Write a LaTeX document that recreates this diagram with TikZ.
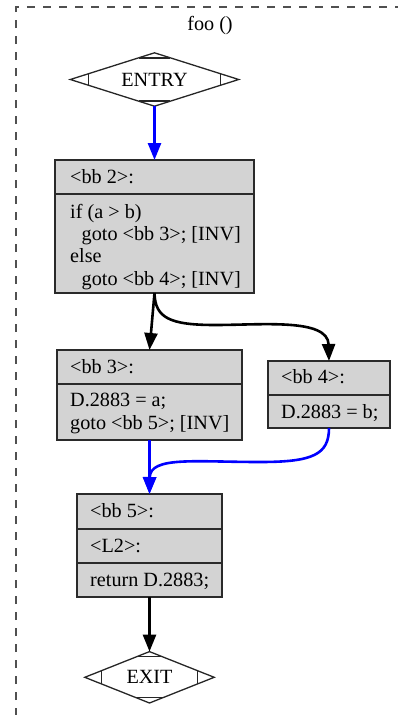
\documentclass[tikz,border=0pt]{standalone}
\usepackage{fontspec}
\setmainfont{Liberation Serif}
\usetikzlibrary{arrows.meta}
\definecolor{boxfill}{HTML}{D3D3D3}
\definecolor{boxline}{HTML}{2A2A2A}
\definecolor{clusterline}{HTML}{505050}
\tikzset{
  bbox/.style={draw=boxline, fill=boxfill, line width=1.5pt, anchor=north west,
               inner sep=0pt, outer sep=0pt, rectangle},
  divline/.style={draw=boxline, line width=1.5pt},
  txt/.style={anchor=base west, inner sep=0pt, font=\fontsize{20.2}{22.3}\selectfont},
  ctxt/.style={inner sep=0pt, font=\fontsize{20.2}{22.3}\selectfont},
  diaframe/.style={draw=black!85, line width=1.3pt, line join=miter},
  flow/.style={line width=2.6pt, -{Triangle[length=17pt,width=13pt]}},
  hot/.style={flow, draw=blue},
  cluster/.style={draw=clusterline, line width=1.3pt, dash pattern=on 8pt off 8pt},
}
\begin{document}
\begin{tikzpicture}[x=1pt, y=-1pt]
  \useasboundingbox (0,0) rectangle (398,715);

  % cluster frame and its title
  \draw[cluster] (16,716) -- (16,7) -- (400,7);
  \node[ctxt, anchor=base] (title) at (210,30) {foo ()};

  % ENTRY (Mdiamond)
  \node[rectangle, minimum width=168pt, minimum height=53pt, inner sep=0pt, ctxt] (entry) at (154.5,79.5) {ENTRY};
  \draw[diaframe] (entry.west) -- (entry.north) -- (entry.east) -- (entry.south) -- cycle;
  \begin{scope}[shift={(entry.center)}, diaframe]
    \draw (-66,-5.7) -- (-66,5.7);
    \draw (66,-5.7) -- (66,5.7);
    \draw (-15.8,-21.5) -- (15.8,-21.5);
    \draw (-15.8,21.5) -- (15.8,21.5);
  \end{scope}

  % <bb 2>
  \node[bbox, minimum width=199pt, minimum height=133pt] (bb2) at (55,160) {};
  \draw[divline] (55,194) -- (254,194);
  \node[txt] (bb2h) at (70,183.5) {<bb 2>:};
  \node[txt] (bb2a) at (70,218.3) {if (a > b)};
  \node[txt] (bb2b) at (81.5,240.6) {goto <bb 3>; [INV]};
  \node[txt] (bb2c) at (70,262.9) {else};
  \node[txt] (bb2d) at (81.5,285.2) {goto <bb 4>; [INV]};

  % <bb 3>
  \node[bbox, minimum width=185pt, minimum height=90pt] (bb3) at (57,350) {};
  \draw[divline] (57,384) -- (242,384);
  \node[txt] (bb3h) at (70,373) {<bb 3>:};
  \node[txt] (bb3a) at (70,406.7) {D.2883 = a;};
  \node[txt] (bb3b) at (70,429) {goto <bb 5>; [INV]};

  % <bb 4>
  \node[bbox, minimum width=122pt, minimum height=67pt] (bb4) at (268,361) {};
  \draw[divline] (268,395) -- (390,395);
  \node[txt] (bb4h) at (281,383.5) {<bb 4>:};
  \node[txt] (bb4a) at (281,418) {D.2883 = b;};

  % <bb 5>
  \node[bbox, minimum width=145pt, minimum height=103pt] (bb5) at (77,494) {};
  \draw[divline] (77,529) -- (222,529);
  \draw[divline] (77,563) -- (222,563);
  \node[txt] (bb5h) at (90,517.5) {<bb 5>:};
  \node[txt] (bb5a) at (90,552) {<L2>:};
  \node[txt] (bb5b) at (90,586) {return D.2883;};

  % EXIT (Mdiamond)
  \node[rectangle, minimum width=129pt, minimum height=51pt, inner sep=0pt, ctxt] (exit) at (149.5,677.3) {EXIT};
  \draw[diaframe] (exit.west) -- (exit.north) -- (exit.east) -- (exit.south) -- cycle;
  \begin{scope}[shift={(exit.center)}, diaframe]
    \draw (-47.8,-6.6) -- (-47.8,6.6);
    \draw (47.8,-6.6) -- (47.8,6.6);
    \draw (-12.6,-20.5) -- (12.6,-20.5);
    \draw (-12.6,20.5) -- (12.6,20.5);
  \end{scope}

  % control-flow edges
  \draw[hot] (entry.south) -- (bb2.north);
  \draw[flow] (bb2.south) -- (bb3.north);
  \draw[flow] (bb2.south) .. controls (155,318) and (170,325) .. (215,325)
                          .. controls (262,325) and (328,318) .. (bb4.north);
  \draw[hot] (bb3.south) -- (bb5.north);
  \draw[hot] (bb4.south) .. controls (329,455) and (312,462) .. (260,462)
                         .. controls (195,462) and (150,456) .. (bb5.north);
  \draw[flow] (bb5.south) -- (exit.north);
\end{tikzpicture}
\end{document}
